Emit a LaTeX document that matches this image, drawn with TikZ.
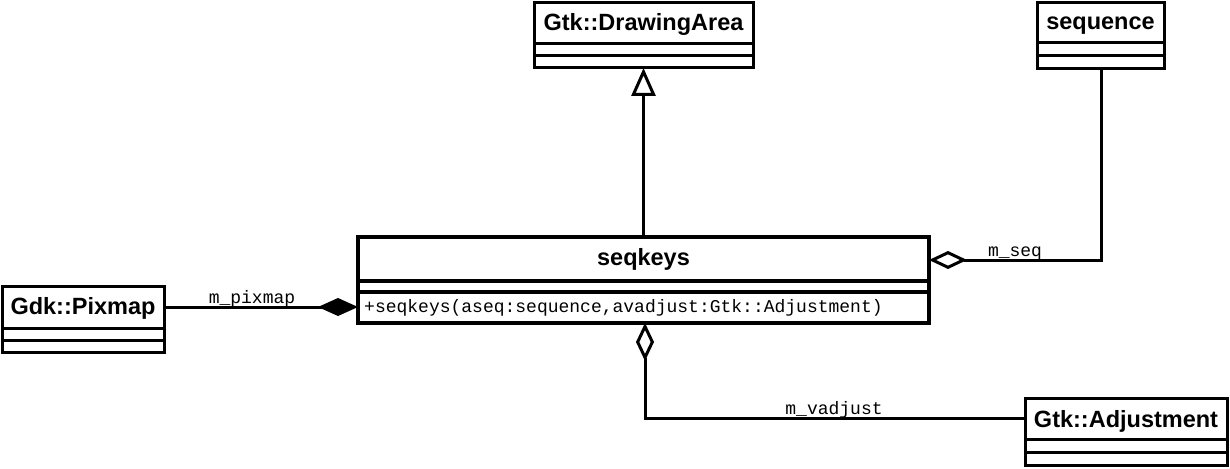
\documentclass[tikz,border=0pt]{standalone}
\usepackage{fontspec}
\setmainfont{Liberation Sans}
\newfontfamily\monofont{Liberation Mono}
\usetikzlibrary{arrows.meta}
\begin{document}
\begin{tikzpicture}[x=1pt,y=-1pt,
  cls/.style={draw, line width=3pt, inner sep=0pt, outer sep=0pt, fill=white},
  clsname/.style={font=\fontsize{23.5}{26}\selectfont\bfseries, inner sep=0pt, anchor=base},
  conn/.style={line width=3pt},
  lbl/.style={font=\monofont\fontsize{18}{20}\selectfont, inner sep=0pt, anchor=base},
  inherit/.style={-{Triangle[open, length=28pt, width=24pt]}},
  aggr/.style={-{Diamond[open, length=38pt, width=18pt]}},
  comp/.style={-{Diamond[length=40pt, width=18pt]}}
]
\useasboundingbox (0,0) rectangle (1230,468);

% Gtk::DrawingArea
\node[cls, minimum width=219pt, minimum height=65pt] (da) at (643.5,35.5) {};
\node[clsname] (daname) at (643.5,30.5) {Gtk::DrawingArea};
\draw[line width=3pt] (534,44) -- (753,44) (534,56) -- (753,56);

% sequence
\node[cls, minimum width=127pt, minimum height=66pt] (seq) at (1100.5,36) {};
\node[clsname] (seqname) at (1100.5,29.5) {sequence};
\draw[line width=3pt] (1037,43) -- (1164,43) (1037,56) -- (1164,56);

% seqkeys
\node[cls, line width=4.5pt, minimum width=571pt, minimum height=86pt] (sk) at (643.5,280) {};
\node[clsname] (skname) at (643.5,265.5) {seqkeys};
\draw[line width=4.5pt] (358,281) -- (929,281) (358,292) -- (929,292);
\node[font=\monofont\fontsize{18}{20}\selectfont, inner sep=0pt, anchor=base west] (skop) at (364,312.5) {+seqkeys(aseq:sequence,avadjust:Gtk::Adjustment)};

% Gdk::Pixmap
\node[cls, minimum width=162pt, minimum height=66pt] (pix) at (83,319) {};
\node[clsname] (pixname) at (83,314) {Gdk::Pixmap};
\draw[line width=3pt] (2,328) -- (164,328) (2,340) -- (164,340);

% Gtk::Adjustment
\node[cls, minimum width=202pt, minimum height=67pt] (adj) at (1126,431.5) {};
\node[clsname] (adjname) at (1126,427) {Gtk::Adjustment};
\draw[line width=3pt] (1025,439) -- (1227,439) (1025,452) -- (1227,452);

% connectors
\draw[conn, inherit] (sk.north) -- (da.south);

\coordinate (seqbend) at (1101,260);
\draw[conn, aggr] (seq.south -| seqbend) -- (seqbend) -- (sk.east |- seqbend);
\node[lbl] (lseq) at (1015,256) {m\_seq};

\coordinate (pixy) at (0,307);
\draw[conn, comp] (pix.east |- pixy) -- (sk.west |- pixy);
\node[lbl] (lpix) at (252,303) {m\_pixmap};

\coordinate (adjbend) at (645,418);
\draw[conn, aggr] (adj.west |- adjbend) -- (adjbend) -- (sk.south -| adjbend);
\node[lbl] (ladj) at (834,414) {m\_vadjust};
\end{tikzpicture}
\end{document}
